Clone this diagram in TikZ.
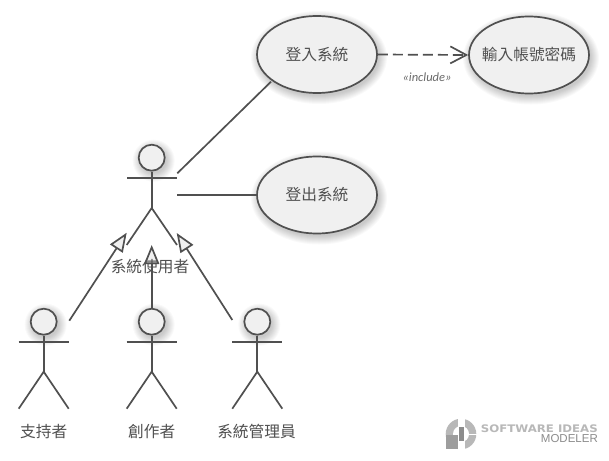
\documentclass[tikz,border=0pt]{standalone}
\usepackage{fontspec}
\setmainfont{Noto Sans CJK TC}
\newfontfamily\latinit{Carlito}
\newfontfamily\logofont{Liberation Sans}
\newfontfamily\logobold[FakeStretch=1.13]{DejaVu Sans}
\usetikzlibrary{arrows.meta,shapes.geometric}
\definecolor{ink}{HTML}{505050}
\definecolor{paper}{HTML}{F0F0F0}
\definecolor{logoa}{HTML}{B8B8B8}
\definecolor{logob}{HTML}{8C8C8C}
\newcommand{\glow}[4]{\foreach \k in {0,1,...,8}{\fill[black,opacity=0.022] (#1+2,#2+3) ellipse [x radius={#3+\k}, y radius={#4+\k}];}}
\tikzset{
  usecase/.style={ellipse,draw=ink,fill=paper,line width=1.7pt,inner ysep=0pt,inner xsep=-14pt,minimum width=120pt,minimum height=77pt,text=ink,font=\fontsize{15.7}{17}\selectfont},
  head/.style={circle,draw=ink,fill=paper,line width=1.7pt,inner sep=0,minimum size=26pt},
  limb/.style={draw=ink,line width=1.7pt},
  assoc/.style={draw=ink,line width=1.7pt},
  gener/.style={draw=ink,line width=1.7pt,-{Triangle[open,length=19pt,width=15pt,fill=paper,line width=1.7pt]}},
  incl/.style={draw=ink,line width=1.7pt,dash pattern=on 10pt off 5pt,-{Straight Barb[length=16pt,width=17pt,line width=1.7pt]}},
  caption/.style={text=ink,inner sep=0,font=\fontsize{15.7}{17}\selectfont},
}
\begin{document}
\begin{tikzpicture}[x=1pt,y=-1pt]
\useasboundingbox (0,0) rectangle (609,460);
\fill[white] (0,0) rectangle (609,460);
% use cases
\glow{317}{54.5}{60}{38.5}
\glow{529}{55}{60}{38.5}
\glow{317}{195}{60}{38.5}
\node[usecase] (login) at (317,54.5) {登入系統};
\node[usecase] (input) at (529,55) {輸入帳號密碼};
\node[usecase] (logout) at (317,195) {登出系統};
% main actor
\glow{151.7}{157.7}{13}{13}
\node[head] (user) at (151.7,157.7) {};
\coordinate (userhip) at (151.7,208);
\coordinate (userarmL) at (127,178);
\coordinate (userarmR) at (177,178);
\coordinate (userfootL) at (126.7,245);
\coordinate (userfootR) at (177,245);
\coordinate (usertoL) at (126.7,232.7);
\coordinate (usertoC) at (151.7,245);
\coordinate (usertoR) at (176.7,233);
\coordinate (userassocA) at (177.3,173.3);
\coordinate (userassocB) at (177,195);
\coordinate (loginend) at (271,81.7);
\draw[limb] (user.south) -- (userhip);
\draw[limb] (userarmL) -- (userarmR);
\draw[limb] (userfootL) -- (userhip) -- (userfootR);
% lower actors
\glow{43.7}{321.7}{13}{13}
\glow{151.7}{321.7}{13}{13}
\glow{257.3}{321.7}{13}{13}
\foreach \n/\x in {sup/43.7,cre/151.7,adm/257.3}{
  \node[head] (\n) at (\x,321.7) {};
  \coordinate (\n hip) at (\x,371.7);
  \draw[limb] (\n.south) -- (\n hip);
  \draw[limb] (\x-25,342.3) -- (\x+25,342.3);
  \draw[limb] (\x-25,408.7) -- (\n hip) -- (\x+25,408.7);
}
% connectors
\coordinate (supfrom) at (69.3,320.7);
\coordinate (admfrom) at (232.3,320);
\draw[assoc] (userassocA) -- (loginend);
\draw[assoc] (userassocB) -- (logout.west);
\draw[gener] (supfrom) -- (usertoL);
\draw[gener] (cre.north) -- (usertoC);
\draw[gener] (admfrom) -- (usertoR);
\draw[incl] (login.east) -- (input.west);
% labels
\node[caption] (userlabel) at (150,267) {系統使用者};
\node[caption] (suplabel) at (43.7,431.5) {支持者};
\node[caption] (crelabel) at (151.7,431.5) {創作者};
\node[caption] (admlabel) at (256.5,431.5) {系統管理員};
\node[text=ink!85,inner sep=0,font=\latinit\itshape\fontsize{12.5}{14}\selectfont] (inclabel) at (427,77) {«include»};
% logo
\begin{scope}
  \fill[logoa] (461,434) circle (15.3);
  \fill[white] (461,434) circle (8);
  \fill[logob!85] (445.7,434.5) rectangle (459,449.3);
  \fill[white] (458,417) rectangle (464.5,451);
  \fill[white] (464,433.5) rectangle (478,435);
  \fill[logob] (458.5,427) rectangle (463.5,441);
\end{scope}
\node[anchor=east,text=logoa,inner sep=0,font=\logobold\bfseries\fontsize{10.4}{12}\selectfont] (logotop) at (598,429) {SOFTWARE IDEAS};
\node[anchor=east,text=logob,inner sep=0,font=\logofont\fontsize{11.5}{12}\selectfont] (logobot) at (598,439) {MODELER};
\end{tikzpicture}
\end{document}
